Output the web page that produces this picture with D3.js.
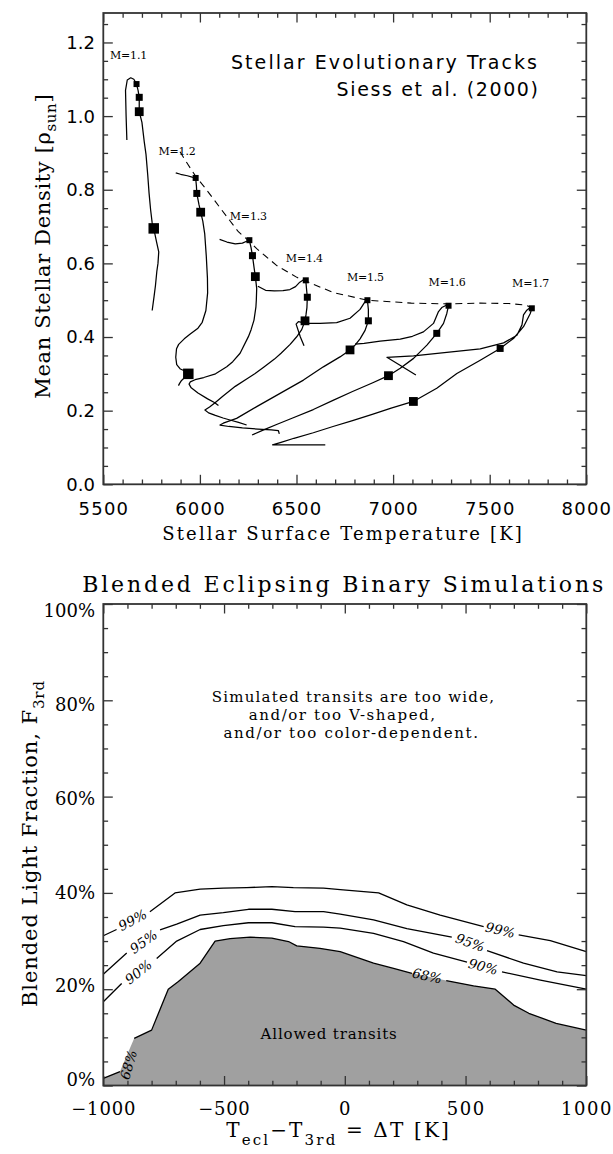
<!DOCTYPE html>
<html>
<head>
<meta charset="utf-8">
<script src="https://cdn.jsdelivr.net/npm/d3@7"></script>
<style>
html,body{margin:0;padding:0;background:#fff;}
svg{display:block;}
</style>
</head>
<body>
<svg id="chart" width="613" height="1154"></svg>
<script>
// ================= DATA : top panel =================
const tempTicks = [5500, 6000, 6500, 7000, 7500, 8000];
const densityTicks = [0.0, 0.2, 0.4, 0.6, 0.8, 1.0, 1.2];
const massLabels = ["M=1.1", "M=1.2", "M=1.3", "M=1.4", "M=1.5", "M=1.6", "M=1.7"];
const massLabelT = [5631, 5882, 6251, 6541, 6857, 7280, 7712];
const massLabelRho = [1.166, 0.906, 0.727, 0.615, 0.562, 0.550, 0.547];

const track11 = [[5622,0.935],[5618,1.00],[5615,1.07],[5624,1.098],[5642,1.104],[5658,1.100],[5672,1.087],[5680,1.07],[5686,1.051],[5686,1.012],[5700,0.983],[5712,0.93],[5721,0.896],[5730,0.84],[5737,0.79],[5745,0.745],[5753,0.710],[5761,0.695],[5775,0.66],[5787,0.631],[5783,0.60],[5777,0.578],[5770,0.54],[5763,0.511],[5753,0.472]];
const track12 = [[5875,0.846],[5900,0.842],[5935,0.838],[5960,0.834],[5978,0.832],[5982,0.81],[5984,0.79],[5995,0.76],[6004,0.739],[6015,0.715],[6025,0.68],[6033,0.62],[6039,0.56],[6040,0.52],[6031,0.472],[6012,0.44],[5990,0.424],[5950,0.408],[5919,0.395],[5890,0.38],[5879,0.368],[5875,0.345],[5880,0.325],[5899,0.313],[5925,0.307],[5940,0.300],[5925,0.292],[5905,0.282],[5895,0.274],[5889,0.268]];
const track13 = [[6102,0.665],[6140,0.658],[6183,0.653],[6220,0.655],[6242,0.660],[6256,0.663],[6265,0.642],[6272,0.621],[6280,0.59],[6287,0.564],[6294,0.532],[6292,0.50],[6290,0.482],[6280,0.446],[6265,0.42],[6251,0.401],[6208,0.356],[6170,0.333],[6139,0.319],[6081,0.300],[6020,0.290],[5975,0.284],[5950,0.278],[5944,0.272],[5955,0.262],[5990,0.248],[6040,0.232],[6075,0.222],[6096,0.214]];
const track14 = [[6300,0.538],[6340,0.527],[6385,0.525],[6430,0.526],[6466,0.529],[6495,0.537],[6517,0.549],[6535,0.555],[6548,0.554],[6552,0.53],[6556,0.508],[6554,0.48],[6549,0.46],[6544,0.444],[6527,0.42],[6500,0.40],[6467,0.38],[6420,0.356],[6386,0.34],[6330,0.318],[6284,0.30],[6242,0.286],[6183,0.266],[6120,0.24],[6080,0.222],[6050,0.21],[6026,0.202],[6045,0.194],[6080,0.187],[6120,0.180],[6160,0.174],[6200,0.168],[6242,0.161]];
const track15 = [[6539,0.376],[6520,0.40],[6498,0.435],[6510,0.442],[6553,0.437],[6622,0.437],[6708,0.439],[6777,0.451],[6829,0.475],[6855,0.496],[6867,0.500],[6872,0.475],[6872,0.444],[6855,0.418],[6829,0.395],[6803,0.378],[6777,0.365],[6725,0.346],[6639,0.319],[6536,0.283],[6415,0.247],[6294,0.211],[6190,0.179],[6121,0.166],[6104,0.161],[6150,0.157],[6220,0.153],[6300,0.150],[6370,0.148],[6406,0.146],[6411,0.137]];
const track16 = [[6803,0.381],[6850,0.383],[6933,0.389],[7037,0.394],[7100,0.402],[7157,0.414],[7209,0.437],[7235,0.469],[7252,0.480],[7278,0.487],[7287,0.485],[7278,0.464],[7261,0.437],[7226,0.410],[7175,0.378],[7106,0.342],[7037,0.315],[6976,0.295],[6892,0.275],[6790,0.252],[6689,0.228],[6587,0.203],[6480,0.180],[6400,0.163],[6330,0.148],[6270,0.134]];
const track17 = [[7118,0.297],[7040,0.322],[6968,0.345],[7106,0.349],[7278,0.358],[7451,0.368],[7572,0.384],[7641,0.405],[7667,0.433],[7675,0.460],[7692,0.473],[7710,0.480],[7718,0.478],[7710,0.464],[7675,0.428],[7623,0.396],[7554,0.369],[7451,0.337],[7330,0.301],[7226,0.261],[7105,0.225],[6990,0.207],[6892,0.190],[6790,0.173],[6689,0.157],[6587,0.140],[6487,0.125],[6420,0.114],[6376,0.107],[6500,0.107],[6649,0.107]];

const marks11 = [[5672,1.087],[5686,1.051],[5686,1.012],[5761,0.695]];
const marks12 = [[5978,0.832],[5984,0.790],[6004,0.739],[5940,0.300]];
const marks13 = [[6256,0.663],[6272,0.621],[6287,0.564]];
const marks14 = [[6548,0.554],[6556,0.508],[6544,0.444]];
const marks15 = [[6867,0.500],[6872,0.444],[6777,0.365]];
const marks16 = [[7287,0.485],[7226,0.410],[6976,0.295]];
const marks17 = [[7718,0.478],[7554,0.369],[7105,0.225]];

const zamsLine = [[5897,0.903],[5940,0.867],[5980,0.835],[6027,0.805],[6113,0.745],[6199,0.686],[6256,0.660],[6294,0.640],[6398,0.594],[6502,0.562],[6548,0.552],[6689,0.521],[6867,0.500],[7094,0.492],[7287,0.490],[7451,0.492],[7600,0.491],[7682,0.487],[7718,0.480]];

// ================= DATA : bottom panel =================
const dTTicks = [-1000, -500, 0, 500, 1000];
const fracTicks = [0, 20, 40, 60, 80, 100];
const contour99 = [[-1000,31.1],[-945,32.4],null,[-807,36.1],[-703,40.0],[-599,40.8],[-503,41.0],[-406,41.1],[-302,41.3],[-213,41.1],[-88,41.0],[-19,40.7],[140,40.0],[257,37.5],[395,35.4],[575,33.0],null,[720,31.3],[851,30.1],[1000,27.8]];
const contour95 = [[-1000,23.1],[-903,27.5],null,[-765,32.3],[-696,33.5],[-599,35.4],[-503,35.9],[-399,36.6],[-302,36.6],[-206,36.1],[-88,36.1],[-19,35.6],[119,34.4],[257,32.6],[443,30.8],null,[589,28.0],[740,25.4],[879,23.6],[1000,22.8]];
const contour90 = [[-1000,17.4],[-924,21.2],null,[-779,26.4],[-696,30.0],[-599,32.4],[-503,33.2],[-399,33.8],[-302,33.8],[-206,33.0],[-88,32.9],[-19,32.7],[119,31.6],[243,29.9],[367,27.5],[506,25.6],null,[651,23.6],[810,21.9],[1000,20.0]];
const contour68 = [[-1000,1.5],[-931,2.9],null,[-872,9.8],[-800,11.5],[-731,20.0],[-689,21.6],[-599,25.4],[-537,30.0],[-475,30.5],[-392,30.8],[-302,30.6],[-233,29.9],[-199,29.0],[-103,28.5],[-19,27.8],[119,25.4],[202,24.3],[278,23.3],null,[420,21.8],[533,20.7],[623,20.0],[699,16.7],[762,15.0],[875,12.9],[1000,11.5]];
const contourLabelText = ["99%", "95%", "90%", "68%", "99%", "95%", "90%", "68%"];
const contourLabelDT   = [-879, -834, -855, -896, 644, 519, 573, 341];
const contourLabelFrac = [34.4, 29.9, 23.6, 4.3, 32.3, 29.7, 24.7, 22.8];
const contourLabelAngle = [-28, -35, -38, -74, 13, 20, 15, 12];
const noteLines = ["Simulated transits are too wide,", "and/or too V-shaped,", "and/or too color-dependent."];

// ================= DRAWING =================
const svg = d3.select("#chart");
const AX = "#333";
const SERIF = "'DejaVu Serif', serif";
const SANS = "'DejaVu Sans', sans-serif";

function fit(sel, w) {
  sel.each(function () {
    const t = d3.select(this);
    const n = this.textContent.length;
    const L = this.getComputedTextLength();
    const ls = (w - L) / n;
    t.attr("letter-spacing", ls.toFixed(2));
    const anchor = t.attr("text-anchor") || "start";
    if (anchor === "middle") t.attr("dx", (ls / 2).toFixed(2));
    if (anchor === "end") t.attr("dx", ls.toFixed(2));
  });
  return sel;
}

function frame(g, x, y, xMajor, xMinor, yMajor, yMinor) {
  const [x0, x1] = x.range(), [yb, yt] = y.range();
  const mk = (axisFn, scale, vals, len, tr) => {
    g.append("g").attr("transform", tr)
      .call(axisFn(scale).tickValues(vals).tickSize(-len).tickSizeOuter(0).tickFormat(""))
      .call(s => s.select(".domain").remove())
      .call(s => s.selectAll("line").attr("stroke", AX).attr("stroke-width", 1.3));
  };
  mk(d3.axisBottom, x, xMajor, 9.5, `translate(0,${yb})`);
  mk(d3.axisBottom, x, xMinor, 4.8, `translate(0,${yb})`);
  mk(d3.axisTop, x, xMajor, 9.5, `translate(0,${yt})`);
  mk(d3.axisTop, x, xMinor, 4.8, `translate(0,${yt})`);
  mk(d3.axisLeft, y, yMajor, 9.5, `translate(${x0},0)`);
  mk(d3.axisLeft, y, yMinor, 4.8, `translate(${x0},0)`);
  mk(d3.axisRight, y, yMajor, 9.5, `translate(${x1},0)`);
  mk(d3.axisRight, y, yMinor, 4.8, `translate(${x1},0)`);
  g.append("rect").attr("x", x0).attr("y", yt).attr("width", x1 - x0).attr("height", yb - yt)
    .attr("fill", "none").attr("stroke", AX).attr("stroke-width", 1.8);
}

// ---------- top panel ----------
const xT = d3.scaleLinear().domain([5500, 8000]).range([103.3, 586.3]);
const yT = d3.scaleLinear().domain([0, 1.28]).range([484.3, 13]);
const gTop = svg.append("g");

const tracks = [track11, track12, track13, track14, track15, track16, track17];
const marks = [marks11, marks12, marks13, marks14, marks15, marks16, marks17];
const markSize = [6, 7, 8.8, 10.5];

const lineT = d3.line().x(d => xT(d[0])).y(d => yT(d[1]));
gTop.append("path").datum(zamsLine).attr("d", lineT)
  .attr("fill", "none").attr("stroke", "#000").attr("stroke-width", 1.1).attr("stroke-dasharray", "7,5");
gTop.selectAll("path.track").data(tracks).join("path").attr("class", "track")
  .attr("d", lineT).attr("fill", "none").attr("stroke", "#000").attr("stroke-width", 1.25)
  .attr("stroke-linejoin", "round");
marks.forEach(ms => {
  gTop.selectAll(null).data(ms).join("rect")
    .attr("x", (d, i) => xT(d[0]) - markSize[i] / 2)
    .attr("y", (d, i) => yT(d[1]) - markSize[i] / 2)
    .attr("width", (d, i) => markSize[i]).attr("height", (d, i) => markSize[i])
    .attr("fill", "#000");
});
gTop.selectAll("text.mass").data(massLabels).join("text").attr("class", "mass")
  .attr("x", (d, i) => xT(massLabelT[i])).attr("y", (d, i) => yT(massLabelRho[i]))
  .attr("dy", "0.35em").attr("text-anchor", "middle")
  .attr("font-family", SERIF).attr("font-size", 11).text(d => d)
  .call(fit, 37);

frame(gTop, xT, yT, tempTicks, d3.range(5500, 8001, 100).filter(v => v % 500),
      densityTicks, d3.range(0, 1.28, 0.05).filter(v => Math.abs(v * 5 - Math.round(v * 5)) > 1e-6));

// tick labels
gTop.selectAll("text.xt").data(tempTicks).join("text").attr("class", "xt")
  .attr("x", d => xT(d)).attr("y", 515).attr("text-anchor", "middle")
  .attr("font-family", SANS).attr("font-size", 18).text(d => d)
  .call(fit, 50.6);
gTop.selectAll("text.yt").data(densityTicks).join("text").attr("class", "yt")
  .attr("x", 95).attr("y", d => yT(d)).attr("dy", "0.36em").attr("text-anchor", "end")
  .attr("font-family", SANS).attr("font-size", 18).text(d => d3.format(".1f")(d));

gTop.append("text").attr("x", 537).attr("y", 69).attr("text-anchor", "end")
  .attr("font-family", SANS).attr("font-size", 19).text("Stellar Evolutionary Tracks").call(fit, 308);
gTop.append("text").attr("x", 538).attr("y", 96).attr("text-anchor", "end")
  .attr("font-family", SANS).attr("font-size", 19).text("Siess et al. (2000)").call(fit, 203);
gTop.append("text").attr("x", 342).attr("y", 540).attr("text-anchor", "middle")
  .attr("font-family", SERIF).attr("font-size", 18).text("Stellar Surface Temperature [K]").call(fit, 362);
{
  const t = gTop.append("text").attr("transform", "translate(50,246.5) rotate(-90)")
    .attr("text-anchor", "middle").attr("font-family", SERIF).attr("font-size", 21);
  t.append("tspan").text("Mean Stellar Density [ρ");
  t.append("tspan").attr("font-size", 15).attr("dy", 6).text("sun");
  t.append("tspan").attr("dy", -6).text("]");
  t.call(fit, 305);
}

// ---------- bottom panel ----------
const xB = d3.scaleLinear().domain([-1000, 1000]).range([103.3, 586.3]);
const yB = d3.scaleLinear().domain([0, 100]).range([1085.5, 604]);
const gBot = svg.append("g");

const area68 = d3.area().x(d => xB(d[0])).y0(yB(0)).y1(d => yB(d[1]));
gBot.append("path").datum(contour68.filter(d => d)).attr("d", area68).attr("fill", "#a0a0a0");

const lineB = d3.line().defined(d => d).x(d => xB(d[0])).y(d => yB(d[1]));
gBot.selectAll("path.cont").data([contour99, contour95, contour90, contour68]).join("path")
  .attr("class", "cont").attr("d", lineB).attr("fill", "none")
  .attr("stroke", "#000").attr("stroke-width", 1.3).attr("stroke-linejoin", "round");

gBot.selectAll("text.cl").data(contourLabelText).join("text").attr("class", "cl")
  .attr("transform", (d, i) => `translate(${xB(contourLabelDT[i])},${yB(contourLabelFrac[i])}) rotate(${contourLabelAngle[i]})`)
  .attr("text-anchor", "middle").attr("dy", "0.36em")
  .attr("font-family", SERIF).attr("font-style", "italic").attr("font-size", 13.5).text(d => d);

frame(gBot, xB, yB, dTTicks, d3.range(-1000, 1001, 100).filter(v => v % 500),
      fracTicks, d3.range(0, 101, 5).filter(v => v % 20));

const minus = d => (d < 0 ? "\u2212" + Math.abs(d) : String(d));
gBot.selectAll("text.xt").data(dTTicks).join("text").attr("class", "xt")
  .attr("x", d => xB(d)).attr("y", 1115).attr("text-anchor", "middle")
  .attr("font-family", SERIF).attr("font-size", 18).text(minus)
  .each(function (d) { d3.select(this).call(fit, 13 * this.textContent.length); });
gBot.selectAll("text.yt").data(fracTicks).join("text").attr("class", "yt")
  .attr("x", 95).attr("y", d => yB(d) + 7 - 13 * (1 - d / 100)).attr("dy", "0.36em").attr("text-anchor", "end")
  .attr("font-family", SERIF).attr("font-size", 18).text(d => d + "%");

gBot.append("text").attr("x", 342.7).attr("y", 591.7).attr("text-anchor", "middle")
  .attr("font-family", SERIF).attr("font-size", 22).text("Blended Eclipsing Binary Simulations").call(fit, 524);

const noteX = [211.7, 248.8, 223.4], noteY = [702, 720, 738], noteW = [283.6, 187.8, 256.2];
gBot.selectAll("text.note").data(noteLines).join("text").attr("class", "note")
  .attr("x", (d, i) => noteX[i]).attr("y", (d, i) => noteY[i])
  .attr("font-family", SERIF).attr("font-size", 15).text(d => d)
  .each(function (d, i) { d3.select(this).call(fit, noteW[i]); });
gBot.append("text").attr("x", 260.6).attr("y", 1039)
  .attr("font-family", SERIF).attr("font-size", 15).text("Allowed transits").call(fit, 137);

{
  const t = gBot.append("text").attr("x", 337.5).attr("y", 1137).attr("text-anchor", "middle")
    .attr("font-family", SERIF).attr("font-size", 20);
  t.append("tspan").text("T");
  t.append("tspan").attr("font-size", 15).attr("dy", 8).text("ecl");
  t.append("tspan").attr("dy", -8).text("\u2212T");
  t.append("tspan").attr("font-size", 15).attr("dy", 8).text("3rd");
  t.append("tspan").attr("dy", -8).text(" = \u0394T [K]");
  t.call(fit, 225);
}
{
  const t = gBot.append("text").attr("transform", "translate(37,844) rotate(-90)")
    .attr("text-anchor", "middle").attr("font-family", SERIF).attr("font-size", 21);
  t.append("tspan").text("Blended Light Fraction, F");
  t.append("tspan").attr("font-size", 15).attr("dy", 7).text("3rd");
  t.call(fit, 327);
}
</script>
</body>
</html>
